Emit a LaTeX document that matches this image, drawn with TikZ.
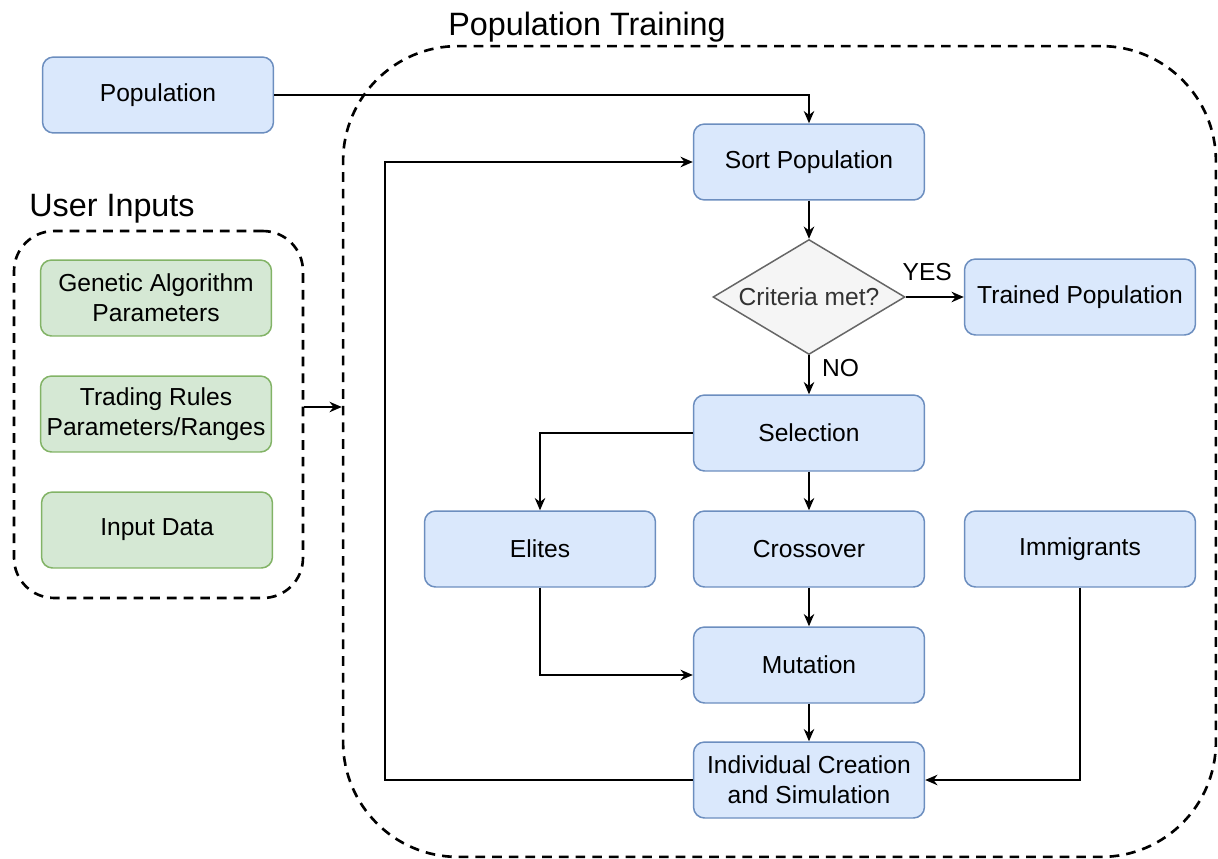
\documentclass[tikz,border=0pt]{standalone}
\usepackage{fontspec}
\setmainfont{Liberation Sans}
\usetikzlibrary{arrows.meta,shapes.geometric,positioning}
\definecolor{bluefill}{HTML}{DAE8FC}
\definecolor{bluedraw}{HTML}{6C8EBF}
\definecolor{greenfill}{HTML}{D5E8D4}
\definecolor{greendraw}{HTML}{82B366}
\definecolor{greyfill}{HTML}{F5F5F5}
\definecolor{greydraw}{HTML}{666666}
\definecolor{greytext}{HTML}{333333}
\tikzset{
  flowbox/.style={rectangle,rounded corners=0.22cm,draw=bluedraw,fill=bluefill,line width=0.85pt,
    minimum width=4.62cm,minimum height=1.52cm,inner sep=0pt,align=center,
    font=\fontsize{14}{17}\selectfont},
  inputbox/.style={flowbox,draw=greendraw,fill=greenfill},
  decision/.style={diamond,draw=greydraw,fill=greyfill,line width=0.85pt,text=greytext,
    minimum width=3.84cm,minimum height=2.3cm,inner sep=0pt,
    font=\fontsize{14}{17}\selectfont},
  group/.style={rectangle,draw,dashed,line width=1.5pt,dash pattern=on 5.5pt off 4pt},
  grouptitle/.style={font=\fontsize{18.4}{22}\selectfont,inner sep=0pt},
  answer/.style={font=\fontsize{14}{17}\selectfont,inner sep=0pt}
}
\begin{document}
\begin{tikzpicture}[x=0.02cm,y=-0.02cm]
  \useasboundingbox (0,0) rectangle (1218,859);

  % groups
  \node[group,rounded corners=2.3cm,minimum width=17.46cm,minimum height=16.22cm] (train) at (779.5,451.5) {};
  \node[group,rounded corners=0.8cm,minimum width=5.78cm,minimum height=7.34cm] (inputs) at (158.5,414.5) {};
  \node[grouptitle] (traintitle) at (587,27) {Population Training};
  \node[grouptitle] (inputstitle) at (112,209) {User Inputs};

  % user inputs
  \node[inputbox] (gaparams) at (156,298) {Genetic Algorithm\\Parameters};
  \node[inputbox] (rules) at (156,414) {Trading Rules\\Parameters/Ranges};
  \node[inputbox] (data) at (157,530) {Input Data};

  % training loop
  \node[flowbox] (pop) at (158,95) {Population};
  \node[flowbox] (sort) at (809,162) {Sort Population};
  \node[decision] (crit) at (809,297) {\makebox[0pt]{Criteria met?}};
  \node[flowbox] (trained) at (1080,297) {Trained Population};
  \node[flowbox] (sel) at (809,433) {Selection};
  \node[flowbox] (elites) at (540,549) {Elites};
  \node[flowbox] (cross) at (809,549) {Crossover};
  \node[flowbox] (imm) at (1080,549) {Immigrants};
  \node[flowbox] (mut) at (809,665) {Mutation};
  \node[flowbox] (indiv) at (809,780) {Individual Creation\\and Simulation};

  \coordinate (feed) at (0,407);
  \coordinate (loop) at (385,0);

  \begin{scope}[>={Stealth[length=7pt,width=6pt]},line width=0.85pt]
    \draw[->] (inputs.east |- feed) -- (train.west |- feed);
    \draw[->] (pop.east) -| (sort.north);
    \path[->] (sort) edge (crit);
    \path[->] (crit.east) edge node[answer,pos=0.37,above=9pt] {YES} (trained.west);
    \path[->] (crit.south) edge node[answer,pos=0.33,right=7pt] {NO} (sel.north);
    \path[->] (sel) edge (cross);
    \path[->] (cross) edge (mut);
    \path[->] (mut) edge (indiv);
    \draw[->] (sel.west) -| (elites.north);
    \draw[->] (elites.south) |- ([yshift=-0.2cm]mut.west);
    \draw[->] (imm.south) |- (indiv.east);
    \draw[->] (indiv.west) -- (indiv.west -| loop) |- (sort.west);
  \end{scope}
\end{tikzpicture}
\end{document}
